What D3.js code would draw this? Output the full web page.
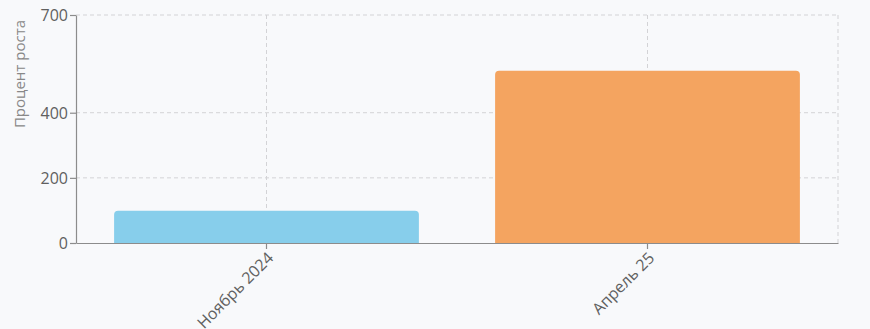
<!DOCTYPE html>
<html lang="ru">
<head>
  <meta charset="UTF-8">
  <title>Процент роста</title>
  <script src="https://d3js.org/d3.v7.min.js"></script>
  <style>
    body { margin: 0; background: #f8f9fb; }
    svg { display: block; font-family: "Open Sans", sans-serif; }
  </style>
</head>
<body>
  <div class="canvas"></div>
  <script>
    const periods = ['Ноябрь 2024', 'Апрель 25'];
    const growth = [99, 529];
    const colors = ['#87ceeb', '#f4a460'];
    const yTicks = [0, 200, 400, 700];

    const width = 870;
    const height = 329;
    const [mt, mr, mb, ml] = [15, 32, 86, 76];
    const graphWidth = width - ml - mr;
    const graphHeight = height - mt - mb;

    const svg = d3.select('.canvas')
      .append('svg')
      .attr('width', width)
      .attr('height', height);

    const graph = svg.append('g')
      .attr('transform', `translate(${ml}, ${mt})`);

    const x = d3.scaleBand()
      .domain(periods)
      .range([0, graphWidth])
      .padding(0);

    const y = d3.scaleLinear()
      .domain([0, 700])
      .range([graphHeight, 0]);

    // grid
    const grid = graph.append('g')
      .attr('stroke', '#d3d3d6')
      .attr('stroke-dasharray', '4,3');
    grid.selectAll('.hg').data(yTicks.filter(d => d > 0))
      .enter().append('line')
      .attr('x1', 0).attr('x2', graphWidth)
      .attr('y1', d => y(d)).attr('y2', d => y(d));
    grid.selectAll('.vg').data(periods)
      .enter().append('line')
      .attr('x1', d => x(d) + x.bandwidth() / 2)
      .attr('x2', d => x(d) + x.bandwidth() / 2)
      .attr('y1', 0).attr('y2', graphHeight);
    grid.append('line')
      .attr('x1', graphWidth).attr('x2', graphWidth)
      .attr('y1', 0).attr('y2', graphHeight);

    // bars with rounded top corners
    const r = 4;
    const bw = x.bandwidth() * 0.8;
    graph.selectAll('path.bar').data(periods)
      .enter().append('path')
      .attr('class', 'bar')
      .attr('fill', (d, i) => colors[i])
      .attr('d', (d, i) => {
        const x0 = x(d) + x.bandwidth() * 0.1;
        const y0 = y(growth[i]);
        const y1 = y(0);
        return `M${x0},${y1}V${y0 + r}Q${x0},${y0} ${x0 + r},${y0}` +
          `H${x0 + bw - r}Q${x0 + bw},${y0} ${x0 + bw},${y0 + r}V${y1}Z`;
      });

    // axes
    const yAxis = graph.append('g')
      .call(d3.axisLeft(y).tickValues(yTicks).tickSize(6).tickSizeOuter(0));
    const xAxis = graph.append('g')
      .attr('transform', `translate(0, ${graphHeight})`)
      .call(d3.axisBottom(x).tickSize(6).tickSizeOuter(0));

    [yAxis, xAxis].forEach(a => {
      a.select('.domain').attr('stroke', '#8c8c8c').attr('stroke-width', 1.2);
      a.selectAll('.tick line').attr('stroke', '#8c8c8c').attr('stroke-width', 1.2);
      a.selectAll('.tick text')
        .attr('fill', '#606060')
        .style('font-size', '16px')
        .style('font-family', '"Open Sans", sans-serif');
    });
    yAxis.selectAll('.tick text').attr('dy', '0.35em').attr('x', -8);

    xAxis.selectAll('.tick text')
      .attr('text-anchor', 'end')
      .attr('dy', '0.35em')
      .attr('transform', 'translate(4, 12) rotate(-45)')
      .attr('y', 0)
      .attr('x', 0);

    svg.append('text')
      .attr('transform', `translate(25, ${mt + 59}) rotate(-90)`)
      .attr('text-anchor', 'middle')
      .attr('fill', '#888')
      .style('font-size', '15px')
      .text('Процент роста');
  </script>
</body>
</html>
